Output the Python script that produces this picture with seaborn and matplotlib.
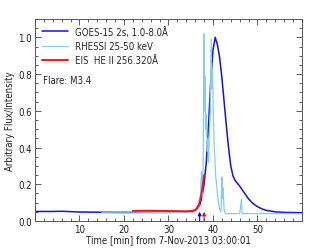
import numpy as np
import pandas as pd
import matplotlib
matplotlib.use("Agg")
import matplotlib.pyplot as plt
import seaborn as sns
from matplotlib.ticker import MultipleLocator

# GOES-15 1.0-8.0 A (normalised)
goes_t = [0, 2, 4, 6, 8, 10, 14, 18, 22, 26, 30, 33, 35, 36, 36.5, 37, 37.5, 38, 38.5,
          39, 39.5, 40, 40.5, 41, 41.5, 42, 42.5, 43, 43.5, 44, 44.5, 45, 46, 47, 48,
          49, 50, 51, 52, 54, 56, 58, 60]
goes_v = [0.052, 0.052, 0.052, 0.053, 0.051, 0.049, 0.048, 0.047, 0.047, 0.047, 0.047,
          0.048, 0.050, 0.055, 0.065, 0.085, 0.13, 0.20, 0.32, 0.52, 0.76, 0.93, 1.00,
          0.96, 0.89, 0.78, 0.65, 0.52, 0.40, 0.30, 0.245, 0.22, 0.19, 0.155, 0.12,
          0.095, 0.078, 0.066, 0.058, 0.050, 0.047, 0.046, 0.045]

# RHESSI 25-50 keV
rhessi_t = [15, 20, 25, 30, 35, 36, 36.8, 37.2, 37.4, 37.6, 37.8, 38.0, 38.1, 38.2, 38.35,
            38.5, 38.7, 38.9, 39.0, 39.2, 39.4, 39.6, 39.75, 39.9, 40.1, 40.3, 40.6, 41.0,
            41.4, 41.8, 42.0, 42.15, 42.3, 42.5, 42.8, 44, 46, 46.4, 46.5, 46.6, 48, 52,
            56, 60]
rhessi_v = [0.045, 0.044, 0.045, 0.046, 0.047, 0.050, 0.070, 0.15, 0.27, 0.12, 0.35, 1.02,
            0.60, 0.79, 0.50, 0.58, 0.38, 0.45, 0.32, 0.50, 0.60, 0.99, 0.72, 0.82, 0.55,
            0.40, 0.25, 0.15, 0.07, 0.05, 0.24, 0.12, 0.18, 0.06, 0.04, 0.040, 0.040,
            0.12, 0.05, 0.040, 0.040, 0.040, 0.041, 0.040]

# EIS He II 256.320 A
eis_t = [22, 25, 28, 31, 34, 35, 36, 36.5, 37, 37.5, 38]
eis_v = [0.055, 0.056, 0.055, 0.054, 0.053, 0.054, 0.060, 0.075, 0.10, 0.16, 0.25]

arrow_t = [37.0, 38.0]
arrow_colors = ["#0000ff", "#ff0000"]

labels = ["GOES-15 2s, 1.0-8.0Å", "RHESSI 25-50 keV", "EIS  HE II 256.320Å"]
colors = ["#1010f0", "#87cdea", "#ff1010"]

sns.set_style("ticks")
plt.rcParams["font.family"] = ["DejaVu Sans"]
plt.rcParams["font.stretch"] = "condensed"
FS = 6.9

fig = plt.figure(figsize=(3.11, 2.53), dpi=100)
ax = fig.add_axes([0.1125, 0.1225, 0.8585, 0.7985])

sns.lineplot(x=goes_t, y=goes_v, ax=ax, color=colors[0], lw=1.1, label=labels[0],
             sort=False, estimator=None)
sns.lineplot(x=rhessi_t, y=rhessi_v, ax=ax, color=colors[1], lw=0.9, label=labels[1],
             sort=False, estimator=None)
sns.lineplot(x=eis_t, y=eis_v, ax=ax, color=colors[2], lw=1.4, label=labels[2],
             sort=False, estimator=None)

for t, c in zip(arrow_t, arrow_colors):
    ax.annotate("", xy=(t, 0.05), xytext=(t, 0.0),
                arrowprops=dict(arrowstyle="-|>", color=c, lw=0.8,
                                mutation_scale=5, shrinkA=0, shrinkB=0))

ax.set_xlim(0, 60)
ax.set_ylim(0, 1.1)
ax.set_xticks([10, 20, 30, 40, 50])
ax.xaxis.set_minor_locator(MultipleLocator(2))
ax.yaxis.set_major_locator(MultipleLocator(0.2))
ax.yaxis.set_minor_locator(MultipleLocator(0.05))
ax.tick_params(which="both", direction="in", top=True, right=True, colors="#444444",
               labelcolor="#222222", labelsize=FS, width=0.6, pad=2.5)
ax.tick_params(which="major", length=4.5)
ax.tick_params(which="minor", length=2.5)
for s in ax.spines.values():
    s.set_color("#555555")
    s.set_linewidth(0.7)

ax.set_xlabel("Time [min] from 7-Nov-2013 03:00:01", fontsize=FS, labelpad=0, color="#222222")
ax.set_ylabel("Arbitrary Flux/Intensity", fontsize=FS, labelpad=2, color="#222222")

ax.text(0.03, 0.698, "Flare: M3.4", transform=ax.transAxes, fontsize=FS, color="#222222",
        va="center")

leg = ax.legend(loc="upper left", frameon=False, fontsize=FS, handlelength=2.7,
                borderaxespad=0.3, labelspacing=0.45, handletextpad=0.8)

fig.savefig("out.png", dpi=100)
